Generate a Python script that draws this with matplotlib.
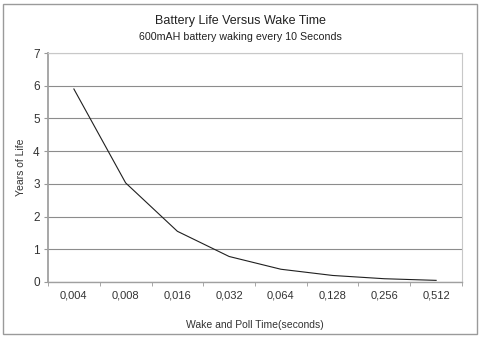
import matplotlib
matplotlib.use("Agg")
import matplotlib.pyplot as plt
from matplotlib.patches import Rectangle

wake_times = ["0,004", "0,008", "0,016", "0,032", "0,064", "0,128", "0,256", "0,512"]
years_of_life = [5.9, 3.03, 1.55, 0.78, 0.39, 0.2, 0.1, 0.05]
y_ticks = [0, 1, 2, 3, 4, 5, 6, 7]

plt.rcParams['font.family'] = ['Liberation Sans', 'DejaVu Sans']

fig = plt.figure(figsize=(4.81, 3.38), dpi=100)
ax = fig.add_axes([48/481, 1 - 282/338, (462 - 48)/481, (282 - 53)/338])

# figure border
fig.patches.append(Rectangle((3/481, 4/338), 474/481, 330/338, transform=fig.transFigure,
                             fill=False, edgecolor='#9a9a9a', linewidth=1.0))

x = list(range(len(wake_times)))
ax.plot(x, years_of_life, color='#202020', linewidth=0.8)

ax.set_xlim(-0.5, len(wake_times) - 0.5)
ax.set_ylim(0, 7)
ax.set_yticks(y_ticks)
ax.set_xticks(x)
ax.set_xticklabels(wake_times)
ax.set_xticks([i + 0.5 for i in range(-1, len(wake_times))], minor=True)
ax.tick_params(axis='x', which='major', length=0, labelsize=8, pad=6, colors='#333333')
ax.tick_params(axis='x', which='minor', length=3, color='#999999', direction='out')
ax.tick_params(axis='y', which='major', length=3, color='#999999', labelsize=8.5, pad=3, labelcolor='#333333')

ax.yaxis.grid(True, color='#8c8c8c', linewidth=0.8)
ax.set_axisbelow(True)
for side in ['top', 'right']:
    ax.spines[side].set_color('#c8c8c8')
    ax.spines[side].set_linewidth(0.8)
ax.spines['left'].set_color('#a0a0a0')
ax.spines['left'].set_linewidth(1.3)
ax.spines['bottom'].set_color('#a0a0a0')
ax.spines['bottom'].set_linewidth(1.0)

ax.set_ylabel("Years of Life", fontsize=7.5, color='#333333', labelpad=5)
ax.set_xlabel("Wake and Poll Time(seconds)", fontsize=7.5, color='#333333', labelpad=14)

fig.text(0.5, 1 - 21/338, "Battery Life Versus Wake Time", ha='center', va='center',
         fontsize=9, color='#222222')
fig.text(0.5, 1 - 37.5/338, "600mAH battery waking every 10 Seconds", ha='center', va='center',
         fontsize=7.7, color='#222222')

fig.savefig("out.png", dpi=100)
